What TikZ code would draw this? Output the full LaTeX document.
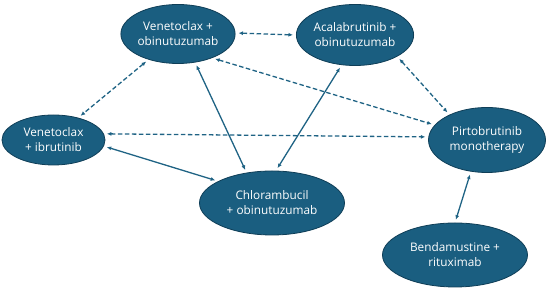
\documentclass[tikz,border=0pt]{standalone}
\usepackage{fontspec}
\setmainfont{Open Sans}
\usetikzlibrary{arrows.meta,shapes.geometric}
\definecolor{nodefill}{HTML}{1A5E80}
\definecolor{nodeline}{HTML}{0F3E57}
\definecolor{edgecol}{HTML}{1F6384}
\begin{document}
\begin{tikzpicture}[x=1pt,y=1pt,
  trt/.style={ellipse,draw=nodeline,line width=0.8pt,fill=nodefill,text=white,
    inner sep=0pt,align=center,font=\fontsize{11.8}{15}\selectfont},
  link/.style={edgecol,line width=1.3pt,{Latex[length=4.5pt,width=4pt]}-{Latex[length=4.5pt,width=4pt]},
    shorten <=3pt,shorten >=3pt},
  dlink/.style={link,dash pattern=on 4.5pt off 2.5pt}]
\useasboundingbox (0,0) rectangle (550,291);
\node[trt,minimum width=110pt,minimum height=59pt] (vo) at (178,257) {Venetoclax +\\obinutuzumab};
\node[trt,minimum width=103pt,minimum height=61pt] (ao) at (355,256) {Acalabrutinib +\\obinutuzumab};
\node[trt,minimum width=103pt,minimum height=50pt] (vi) at (53.5,151) {Venetoclax\\+ ibrutinib};
\node[trt,minimum width=117pt,minimum height=65pt] (pi) at (487,151) {Pirtobrutinib\\monotherapy};
\node[trt,minimum width=145pt,minimum height=64pt] (ch) at (272,88) {Chlorambucil\\+ obinutuzumab};
\node[trt,minimum width=145pt,minimum height=64pt] (bd) at (455,36) {Bendamustine +\\rituximab};
\draw[dlink] (vo.1) -- (ao.180);
\draw[dlink] (vo.-35) -- (pi.164);
\draw[dlink] (ao.-27) -- (pi.146);
\draw[dlink] (vo.-139) -- (vi.42.5);
\draw[dlink] (vi.7.6) -- (pi.177);
\draw[link] (vi.-7.5) -- (ch.158);
\draw[link] (vo.-59.5) -- (ch.130);
\draw[link] (ch.83) -- (ao.-114);
\draw[link] (pi.-117) -- (bd.90);
\end{tikzpicture}
\end{document}
